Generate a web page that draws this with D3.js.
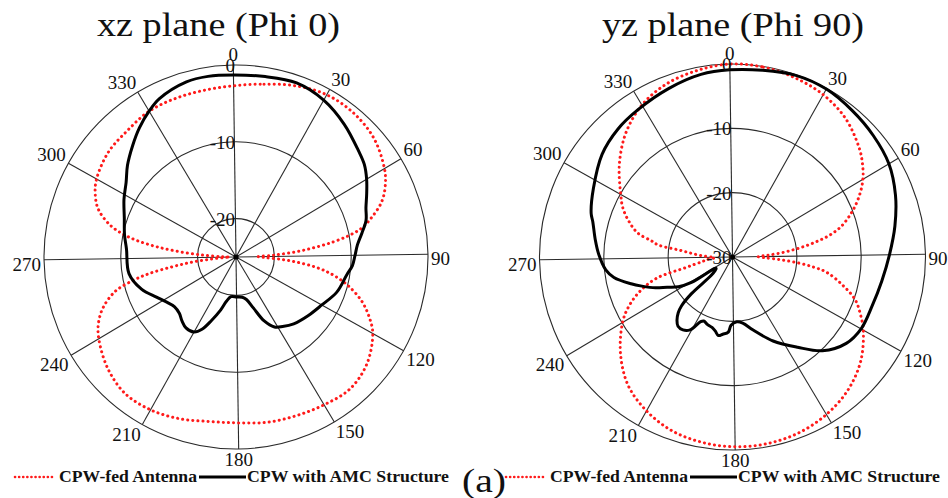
<!DOCTYPE html>
<html>
<head>
<meta charset="utf-8">
<script src="https://cdn.jsdelivr.net/npm/d3@7"></script>
<style>
  body { margin: 0; background: #fff; }
  svg text { font-family: "Liberation Serif", Tinos, "Times New Roman", Times, serif; fill: #111; }
</style>
</head>
<body>
<div class="chart"></div>
<script>
// angular grid, every 30 degrees
var angleTicks = [0, 30, 60, 90, 120, 150, 180, 210, 240, 270, 300, 330];

// xz plane (Phi 0)
var xzRings = [-20, -10, 0];
var xzFedAngles = [0, 10, 20, 30, 40, 50, 60, 65, 70, 75, 78, 80, 82, 84, 86, 88, 90, 92, 94, 96,
  98, 100, 102, 105, 110, 115, 120, 130, 140, 150, 160, 170, 180, 190, 200, 210, 220, 230, 240, 245,
  250, 255, 258, 260, 262, 264, 266, 268, 270, 272, 274, 276, 278, 280, 282, 285, 290, 295, 300, 310,
  320, 330, 340, 350];
var xzFedGain = [-2.7, -2.2, -1.4, -0.8, -0.8, -1.3, -2.5, -3.4, -4.7, -6.8, -8.3, -10.0, -12.2, -14.8, -17.4, -20.1, -22.1, -21.1, -18.8, -16.7,
  -14.6, -13.0, -11.7, -10.0, -7.7, -6.0, -4.6, -3.0, -2.3, -2.6, -2.9, -3.1, -3.4, -3.3, -2.7, -2.2, -2.1, -2.9, -4.2, -5.1,
  -6.5, -8.7, -11.3, -13.5, -16.5, -19.1, -21.6, -23.4, -24.2, -23.2, -20.8, -17.8, -14.8, -12.2, -10.2, -8.1, -6.0, -4.9, -4.2, -3.5,
  -3.3, -2.9, -2.9, -2.9];
var xzAmcAngles = [0, 10, 20, 30, 40, 50, 55, 60, 65, 70, 75, 80, 85, 90, 95, 100, 110, 120, 130, 140,
  147, 152, 157, 162, 167, 172, 180, 188, 193, 197, 202, 206, 210, 216, 221, 226, 232, 238, 244, 252,
  262, 275, 282, 290, 298, 305, 311, 318, 324, 330, 335, 345, 352];
var xzAmcGain = [-1.3, -1.2, -1.0, -1.6, -2.7, -3.9, -4.4, -5.2, -6.1, -6.9, -7.4, -8.3, -9.1, -9.5, -9.8, -10.4, -11.1, -12.2, -12.9, -13.5,
  -14.1, -14.6, -15.9, -18.0, -19.3, -19.7, -19.8, -19.8, -19.1, -17.8, -16.1, -14.6, -13.8, -13.7, -14.1, -14.6, -14.7, -14.2, -13.4, -12.0,
  -10.9, -10.7, -10.2, -9.6, -8.6, -7.7, -6.5, -5.2, -4.0, -2.9, -2.1, -1.3, -1.2];

// yz plane (Phi 90)
var yzRings = [-30, -20, -10, 0];
var yzFedAngles = [0, 10, 20, 30, 40, 50, 55, 60, 65, 70, 75, 78, 80, 82, 84, 86, 88, 90, 92, 94,
  96, 98, 100, 105, 110, 115, 120, 130, 140, 150, 160, 170, 180, 190, 200, 210, 220, 230, 240, 245,
  250, 255, 258, 260, 262, 265, 268, 270, 273, 276, 278, 280, 282, 285, 290, 295, 300, 310, 320, 330,
  340, 350];
var yzFedGain = [0.0, -0.1, -0.5, -1.1, -2.2, -4.0, -5.1, -6.4, -8.1, -10.1, -12.4, -14.4, -16.3, -18.3, -20.4, -22.5, -24.6, -26.0, -25.0, -22.5,
  -19.7, -17.2, -15.2, -12.4, -9.8, -8.2, -6.7, -4.3, -2.6, -1.5, -0.8, -0.5, -0.5, -0.8, -1.4, -2.6, -4.3, -7.0, -10.1, -12.0,
  -14.4, -17.6, -22.5, -24.1, -25.2, -26.0, -27.2, -26.9, -25.3, -23.5, -21.9, -18.3, -17.2, -14.8, -12.9, -11.3, -10.1, -7.3, -4.6, -2.5,
  -1.2, -0.5];
var yzAmcAngles = [0, 10, 20, 30, 40, 50, 60, 70, 80, 90, 100, 110, 120, 128, 137, 145, 155, 165, 172, 177,
  182, 184, 188, 191, 194, 197, 201, 205, 207, 211, 215, 219, 222, 225, 227, 229, 230, 233, 236, 238,
  239, 242, 246, 249, 253, 256, 261, 265, 272, 278, 285, 288, 297, 309, 319, 328, 340, 351];
var yzAmcGain = [-0.9, -0.6, -0.1, -0.1, -0.6, -1.1, -1.7, -2.9, -4.3, -5.6, -6.5, -7.0, -7.1, -7.8, -9.8, -12.7, -15.5, -18.2, -19.6, -19.9,
  -19.4, -18.3, -17.9, -17.6, -18.2, -18.6, -18.8, -19.1, -18.8, -16.9, -16.3, -16.3, -16.9, -17.9, -19.0, -21.4, -25.6, -26.6, -26.9, -26.7,
  -22.5, -20.4, -18.8, -17.1, -15.2, -13.7, -11.3, -10.2, -9.2, -8.5, -7.6, -7.0, -5.9, -4.2, -3.3, -2.8, -2.0, -1.2];

var svgWidth = 948;
var svgHeight = 498;
var tilt = -0.8; // the scanned plots are turned slightly
var serif = "'Liberation Serif', Tinos, 'Times New Roman', Times, serif";

var svg = d3.select(".chart")
  .append("svg")
  .attr("width", svgWidth)
  .attr("height", svgHeight)
  .attr("font-family", serif);

function zip(a, b) {
  return a.map(function(d, i) { return [d, b[i]]; });
}

function drawPolar(cfg) {
  var rScale = d3.scaleLinear()
    .domain([cfg.min, 0])
    .range([0, cfg.radius])
    .clamp(true);

  var g = svg.append("g")
    .attr("transform", "translate(" + cfg.cx + "," + cfg.cy + ") rotate(" + tilt + ")");

  // rings
  g.selectAll("circle.ring")
    .data(cfg.rings.filter(function(d) { return d > cfg.min; }))
    .enter().append("circle")
      .attr("class", "ring")
      .attr("r", function(d) { return rScale(d); })
      .attr("fill", "none")
      .attr("stroke", "#2a2a2a")
      .attr("stroke-width", 1.1);

  // spokes
  g.selectAll("line.spoke")
    .data(angleTicks)
    .enter().append("line")
      .attr("class", "spoke")
      .attr("x1", 0).attr("y1", 0)
      .attr("x2", function(d) { return cfg.radius * Math.sin(d * Math.PI / 180); })
      .attr("y2", function(d) { return -cfg.radius * Math.cos(d * Math.PI / 180); })
      .attr("stroke", "#2a2a2a")
      .attr("stroke-width", 1.1);

  var line = d3.lineRadial()
    .angle(function(d) { return d[0] * Math.PI / 180; })
    .radius(function(d) { return rScale(d[1]); })
    .curve(d3.curveCatmullRomClosed.alpha(0.5));

  // CPW-fed antenna (red dots)
  g.append("path")
    .attr("d", line(zip(cfg.fedAngles, cfg.fedGain)))
    .attr("fill", "none")
    .attr("stroke", "#ff1a1a")
    .attr("stroke-width", 3)
    .attr("stroke-linecap", "round")
    .attr("stroke-dasharray", "0.1 5");

  // CPW with AMC (black)
  g.append("path")
    .attr("d", line(zip(cfg.amcAngles, cfg.amcGain)))
    .attr("fill", "none")
    .attr("stroke", "#000")
    .attr("stroke-width", 3);

  g.append("circle").attr("r", 2.6).attr("fill", "#000");

  // radial labels
  svg.selectAll(null)
    .data(cfg.rings)
    .enter().append("text")
      .attr("x", cfg.cx - 1)
      .attr("y", function(d) { return cfg.cy - rScale(d) + 7; })
      .attr("text-anchor", "end")
      .attr("font-family", serif)
      .attr("font-size", 19)
      .text(function(d) { return d; });

  // angle labels, anchored by the corner facing the circle
  svg.selectAll(null)
    .data(angleTicks)
    .enter().append("text")
      .attr("font-family", serif)
      .attr("font-size", 19)
      .attr("x", function(d) {
        var a = (d + tilt) * Math.PI / 180;
        return cfg.cx + (cfg.radius + 3) * Math.sin(a);
      })
      .attr("y", function(d) {
        var a = (d + tilt) * Math.PI / 180;
        var c = Math.cos(a);
        var y = cfg.cy - (cfg.radius + 3) * c;
        if (c > 0.2) return y - 1;
        if (c < -0.2) return y + 14;
        return y + 11;
      })
      .attr("text-anchor", function(d) {
        var s = Math.sin((d + tilt) * Math.PI / 180);
        return s > 0.2 ? "start" : (s < -0.2 ? "end" : "middle");
      })
      .text(function(d) { return d; });

  // title
  svg.append("text")
    .attr("x", cfg.titleX)
    .attr("y", 36)
    .attr("font-family", serif)
    .attr("font-size", 33)
    .attr("textLength", cfg.titleW)
    .attr("lengthAdjust", "spacingAndGlyphs")
    .text(cfg.title);

  // legend
  var ly = 477;
  svg.append("line")
    .attr("x1", cfg.legendX).attr("x2", cfg.legendX + 37)
    .attr("y1", ly).attr("y2", ly)
    .attr("stroke", "#ff1a1a")
    .attr("stroke-width", 2.6)
    .attr("stroke-linecap", "round")
    .attr("stroke-dasharray", "0.1 4");
  svg.append("text")
    .attr("x", cfg.legendX + 44)
    .attr("y", ly + 5)
    .attr("font-family", serif)
    .attr("font-size", 17.5)
    .attr("font-weight", "bold")
    .attr("textLength", 138)
    .attr("lengthAdjust", "spacingAndGlyphs")
    .text("CPW-fed Antenna");
  svg.append("line")
    .attr("x1", cfg.legendX + 184).attr("x2", cfg.legendX + 231)
    .attr("y1", ly).attr("y2", ly)
    .attr("stroke", "#000")
    .attr("stroke-width", 3);
  svg.append("text")
    .attr("x", cfg.legendX + 232)
    .attr("y", ly + 5)
    .attr("font-family", serif)
    .attr("font-size", 17.5)
    .attr("font-weight", "bold")
    .attr("textLength", 202)
    .attr("lengthAdjust", "spacingAndGlyphs")
    .text("CPW with AMC Structure");
}

drawPolar({
  cx: 236, cy: 257, radius: 192, min: -25,
  rings: xzRings,
  fedAngles: xzFedAngles, fedGain: xzFedGain,
  amcAngles: xzAmcAngles, amcGain: xzAmcGain,
  title: "xz plane (Phi 0)", titleX: 97, titleW: 243,
  legendX: 15
});

drawPolar({
  cx: 732.5, cy: 257, radius: 193, min: -30,
  rings: yzRings,
  fedAngles: yzFedAngles, fedGain: yzFedGain,
  amcAngles: yzAmcAngles, amcGain: yzAmcGain,
  title: "yz plane (Phi 90)", titleX: 602, titleW: 262,
  legendX: 506
});

svg.append("text")
  .attr("x", 462)
  .attr("y", 492)
  .attr("font-family", serif)
  .attr("font-size", 33)
  .attr("textLength", 44)
  .attr("lengthAdjust", "spacingAndGlyphs")
  .text("(a)");
</script>
</body>
</html>
